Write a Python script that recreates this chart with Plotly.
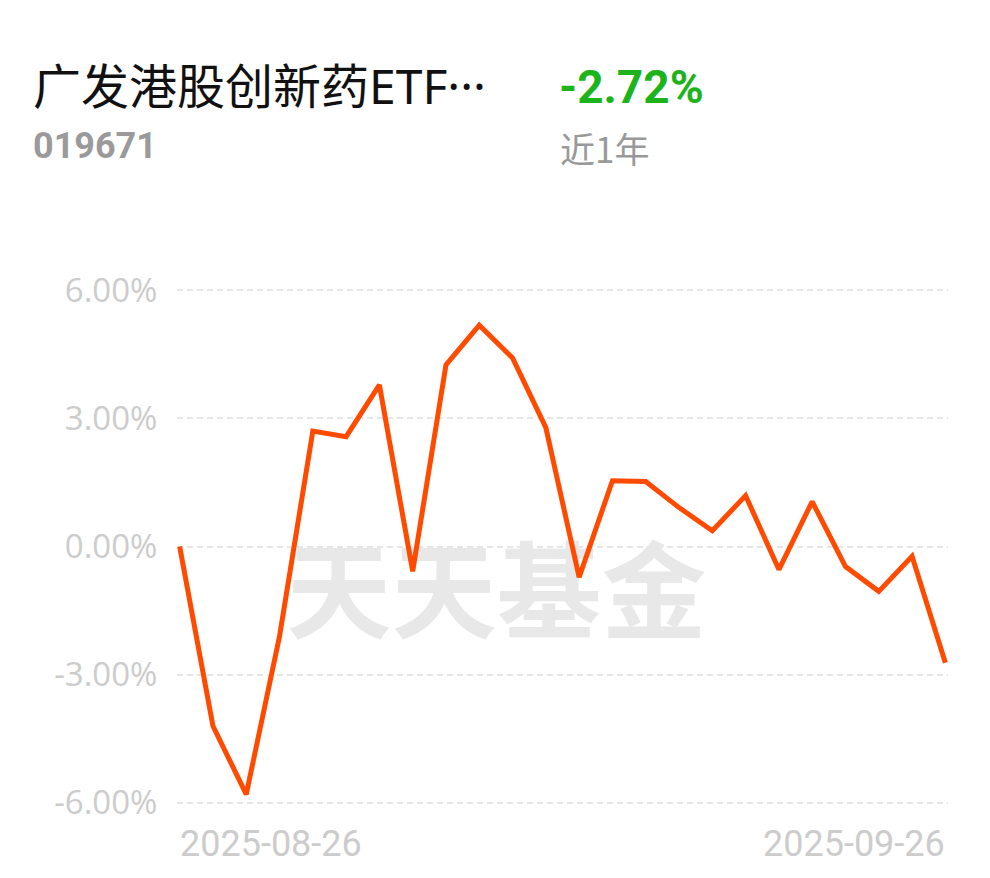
import plotly.graph_objects as go

dates = ["2025-08-26", "2025-08-27", "2025-08-28", "2025-08-29",
         "2025-09-01", "2025-09-02", "2025-09-03", "2025-09-04", "2025-09-05",
         "2025-09-08", "2025-09-09", "2025-09-10", "2025-09-11", "2025-09-12",
         "2025-09-15", "2025-09-16", "2025-09-17", "2025-09-18", "2025-09-19",
         "2025-09-22", "2025-09-23", "2025-09-24", "2025-09-25", "2025-09-26"]
returns = [0.00, -4.20, -5.80, -2.10, 2.70, 2.57, 3.78, -0.58, 4.25,
           5.18, 4.41, 2.78, -0.72, 1.54, 1.52, 0.91, 0.37, 1.19,
           -0.54, 1.05, -0.47, -1.05, -0.23, -2.72]
y_ticks = [-6, -3, 0, 3, 6]
fund_name = "广发港股创新药ETF···"
fund_code = "019671"
period_label = "近1年"
period_return = "-2.72%"
watermark = "天天基金"

idx = list(range(len(dates)))

# plot area: x 180..945 for indices 0..23, y 290..803 for 6..-6
XPAD = 0.08
YPAD = 0.025
unit_x = 765 / (len(dates) - 1)
unit_y = 513 / 12
L = 180 - XPAD * unit_x
R = 990 - 945 - XPAD * unit_x
T = 290 - YPAD * unit_y
B = 878 - 803 - YPAD * unit_y
PW = 990 - L - R
PH = 878 - T - B

fig = go.Figure()

# watermark under the line
fig.add_trace(go.Scatter(
    x=[9.52], y=[-1.35], mode="text", text=[watermark],
    textfont=dict(family="Noto Sans CJK SC", size=105, color="#e8e8e8", weight="bold"),
    hoverinfo="skip", showlegend=False,
))

fig.add_trace(go.Scatter(
    x=idx, y=returns, mode="lines",
    line=dict(color="#ff4a00", width=5),
    customdata=dates, hovertemplate="%{customdata}: %{y:.2f}%<extra></extra>",
    showlegend=False,
))

fig.update_layout(
    width=990, height=878,
    margin=dict(l=L, r=R, t=T, b=B, pad=0),
    paper_bgcolor="white", plot_bgcolor="white",
    xaxis=dict(range=[-XPAD, len(dates) - 1 + XPAD], showgrid=False, zeroline=False,
               showticklabels=False, showline=False, fixedrange=True),
    yaxis=dict(range=[-6 - YPAD, 6 + YPAD], tickvals=y_ticks,
               ticktext=[f"{v:.2f}%" for v in y_ticks],
               showgrid=True, gridcolor="#e6e6e6", gridwidth=2, griddash="6px,4px",
               zeroline=False, showline=False, fixedrange=True,
               ticks="outside", ticklen=12, tickcolor="rgba(0,0,0,0)",
               tickfont=dict(family="Open Sans", size=33, color="#cccccc")),
    font=dict(family="Noto Sans CJK SC"),
)

def px_x(px):
    return (px - L) / PW

def px_y(py):
    return (878 - B - py) / PH

fig.add_annotation(x=px_x(31), y=px_y(85), xref="paper", yref="paper",
                   xanchor="left", yanchor="middle", showarrow=False,
                   text=fund_name,
                   font=dict(family="Noto Sans, Noto Sans CJK SC", size=48, color="#111111"))
fig.add_annotation(x=px_x(557), y=px_y(87), xref="paper", yref="paper",
                   xanchor="left", yanchor="middle", showarrow=False,
                   text=period_return,
                   font=dict(family="Roboto", size=46, color="#1db31c", weight="bold"))
fig.add_annotation(x=px_x(31), y=px_y(146), xref="paper", yref="paper",
                   xanchor="left", yanchor="middle", showarrow=False,
                   text=fund_code,
                   font=dict(family="Roboto", size=36, color="#9a9a9a", weight="bold"))
fig.add_annotation(x=px_x(558), y=px_y(147), xref="paper", yref="paper",
                   xanchor="left", yanchor="middle", showarrow=False,
                   text=period_label,
                   font=dict(family="Noto Sans CJK SC", size=35, color="#999999"))

fig.add_annotation(x=0, y=px_y(844), xref="x", yref="paper",
                   xanchor="left", yanchor="middle", showarrow=False, xshift=-2,
                   text=dates[0],
                   font=dict(family="Roboto", size=36, color="#cccccc"))
fig.add_annotation(x=len(dates) - 1, y=px_y(844), xref="x", yref="paper",
                   xanchor="right", yanchor="middle", showarrow=False, xshift=2,
                   text=dates[-1],
                   font=dict(family="Roboto", size=36, color="#cccccc"))

fig.write_html("out.html", config={"displayModeBar": False},
               post_script="document.body.style.margin='0';")
